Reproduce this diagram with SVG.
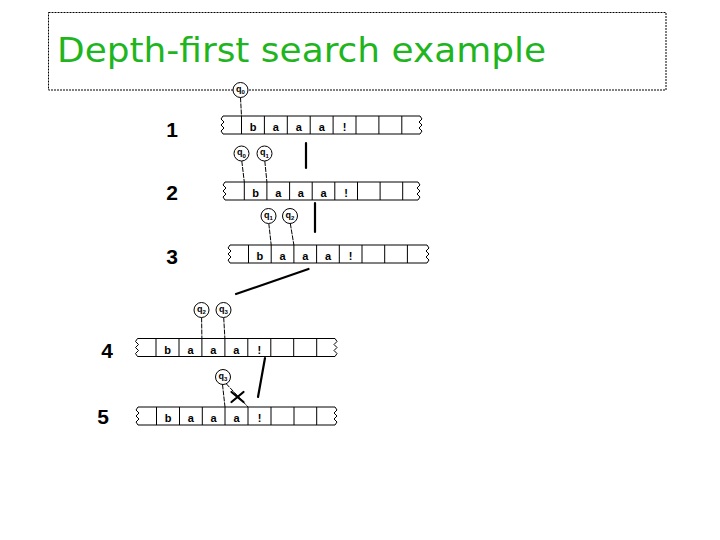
<svg xmlns="http://www.w3.org/2000/svg" width="720" height="540" viewBox="0 0 720 540">
<style>
.frame{fill:none;stroke:#000;stroke-width:1;stroke-dasharray:2,1}
.title{font-family:"DejaVu Sans",Verdana,sans-serif;font-size:33px;fill:#1fb51f}
.num{font-family:"Liberation Sans",Arial,sans-serif;font-size:21px;font-weight:bold;text-anchor:middle;fill:#000}
.tl{stroke:#000;stroke-width:1;fill:none}
.sym{font-family:"Liberation Sans",Arial,sans-serif;font-size:11px;font-weight:bold;text-anchor:middle;fill:#000}
.st{fill:#fff;stroke:#000;stroke-width:1}
.q{font-family:"Liberation Sans",Arial,sans-serif;font-size:9px;font-weight:bold;text-anchor:middle;fill:#000}
.ptr{stroke:#000;stroke-width:1;fill:none;stroke-dasharray:5,1}
.thick{stroke:#000;stroke-width:2.2;fill:none;stroke-linecap:round}
</style>
<rect class="frame" x="48.5" y="12.5" width="617.5" height="77.5"/>
<text class="title" x="57" y="62" textLength="489" lengthAdjust="spacingAndGlyphs">Depth-first search example</text>

<g id="step1">
<text class="num" x="172" y="137">1</text>
<path class="tl" d="M223,116 H420 M223,134 H420 M241.5,116V134 M264.4,116V134 M287.3,116V134 M310.2,116V134 M333.1,116V134 M356,116V134 M378.9,116V134 M401.8,116V134"/>
<path class="tl" d="M223,116 l-2,3 l3,3 l-3,3 l3,3 l-3,3 l2,3 M420,116 l2,3 l-3,3 l3,3 l-3,3 l3,3 l-2,3"/>
<text class="sym" x="253" y="131">b</text><text class="sym" x="275.9" y="131">a</text><text class="sym" x="298.8" y="131">a</text><text class="sym" x="321.7" y="131">a</text><text class="sym" x="344.6" y="131">!</text>
</g>
<g id="step2">
<text class="num" x="172" y="200">2</text>
<path class="tl" d="M225,182 H418 M225,200 H418 M244.3,182V200 M266.9,182V200 M289.6,182V200 M312.2,182V200 M334.8,182V200 M357.5,182V200 M380.1,182V200 M402.7,182V200"/>
<path class="tl" d="M225,182 l-2,3 l3,3 l-3,3 l3,3 l-3,3 l2,3 M418,182 l2,3 l-3,3 l3,3 l-3,3 l3,3 l-2,3"/>
<text class="sym" x="255.6" y="197">b</text><text class="sym" x="278.2" y="197">a</text><text class="sym" x="300.9" y="197">a</text><text class="sym" x="323.5" y="197">a</text><text class="sym" x="346.1" y="197">!</text>
</g>
<g id="step3">
<text class="num" x="172" y="264">3</text>
<path class="tl" d="M230,245 H427 M230,263 H427 M248.5,245V263 M271.2,245V263 M293.9,245V263 M316.6,245V263 M339.3,245V263 M362,245V263 M384.7,245V263 M407.4,245V263"/>
<path class="tl" d="M230,245 l-2,3 l3,3 l-3,3 l3,3 l-3,3 l2,3 M427,245 l2,3 l-3,3 l3,3 l-3,3 l3,3 l-2,3"/>
<text class="sym" x="259.9" y="260">b</text><text class="sym" x="282.6" y="260">a</text><text class="sym" x="305.3" y="260">a</text><text class="sym" x="328" y="260">a</text><text class="sym" x="350.7" y="260">!</text>
</g>
<g id="step4">
<text class="num" x="107" y="358">4</text>
<path class="tl" d="M137.5,338.5 H335 M137.5,356.5 H335 M156,338.5V356.5 M179,338.5V356.5 M201.9,338.5V356.5 M224.9,338.5V356.5 M247.8,338.5V356.5 M270.8,338.5V356.5 M293.7,338.5V356.5 M316.7,338.5V356.5"/>
<path class="tl" d="M137.5,338.5 l-2,3 l3,3 l-3,3 l3,3 l-3,3 l2,3 M335,338.5 l2,3 l-3,3 l3,3 l-3,3 l3,3 l-2,3"/>
<text class="sym" x="167.5" y="353.5">b</text><text class="sym" x="190.5" y="353.5">a</text><text class="sym" x="213.4" y="353.5">a</text><text class="sym" x="236.4" y="353.5">a</text><text class="sym" x="259.3" y="353.5">!</text>
</g>
<g id="step5">
<text class="num" x="103" y="424">5</text>
<path class="tl" d="M138,407 H335 M138,425 H335 M156.5,407V425 M179.5,407V425 M202.3,407V425 M225,407V425 M248,407V425 M271,407V425 M294,407V425 M316.7,407V425"/>
<path class="tl" d="M138,407 l-2,3 l3,3 l-3,3 l3,3 l-3,3 l2,3 M335,407 l2,3 l-3,3 l3,3 l-3,3 l3,3 l-2,3"/>
<text class="sym" x="168" y="422">b</text><text class="sym" x="190.9" y="422">a</text><text class="sym" x="213.6" y="422">a</text><text class="sym" x="236.5" y="422">a</text><text class="sym" x="259.5" y="422">!</text>
</g>

<g id="connectors">
<line class="ptr" x1="240.5" y1="97.5" x2="241.5" y2="116"/>
<line class="ptr" x1="241.8" y1="161" x2="244.3" y2="182"/>
<line class="ptr" x1="264.8" y1="161" x2="266.9" y2="182"/>
<line class="ptr" x1="268.8" y1="223.5" x2="271.2" y2="245"/>
<line class="ptr" x1="290.3" y1="223.5" x2="293.9" y2="245"/>
<line class="ptr" x1="201.6" y1="317.5" x2="201.9" y2="338.5"/>
<line class="ptr" x1="223.7" y1="317.5" x2="224.9" y2="338.5"/>
<line class="ptr" x1="222.5" y1="384.5" x2="225" y2="407"/>
<line class="ptr" x1="226" y1="383.5" x2="248" y2="407"/>
<line class="thick" x1="306" y1="143" x2="306" y2="168"/>
<line class="thick" x1="315" y1="203" x2="315" y2="232"/>
<line class="thick" x1="308.5" y1="269" x2="236" y2="294"/>
<line class="thick" x1="265" y1="358" x2="258" y2="397"/>
<path class="thick" d="M231.5,392 L243.5,402 M243.5,392 L231.5,402"/>
</g>

<g id="s1q0"><circle class="st" cx="240.5" cy="90" r="7.5"/><text class="q" x="240.5" y="91.5">q<tspan dy="2.5" font-size="6">0</tspan></text></g>
<g id="s2q0"><circle class="st" cx="241.5" cy="153.5" r="7.5"/><text class="q" x="241.5" y="155">q<tspan dy="2.5" font-size="6">0</tspan></text></g>
<g id="s2q1"><circle class="st" cx="264.5" cy="153.5" r="7.5"/><text class="q" x="264.5" y="155">q<tspan dy="2.5" font-size="6">1</tspan></text></g>
<g id="s3q1"><circle class="st" cx="268.5" cy="216" r="7.5"/><text class="q" x="268.5" y="217.5">q<tspan dy="2.5" font-size="6">1</tspan></text></g>
<g id="s3q2"><circle class="st" cx="290" cy="216" r="7.5"/><text class="q" x="290" y="217.5">q<tspan dy="2.5" font-size="6">2</tspan></text></g>
<g id="s4q2"><circle class="st" cx="201.5" cy="310" r="7.5"/><text class="q" x="201.5" y="311.5">q<tspan dy="2.5" font-size="6">2</tspan></text></g>
<g id="s4q3"><circle class="st" cx="223.5" cy="310" r="7.5"/><text class="q" x="223.5" y="311.5">q<tspan dy="2.5" font-size="6">3</tspan></text></g>
<g id="s5q3"><circle class="st" cx="223" cy="377" r="7.5"/><text class="q" x="223" y="378.5">q<tspan dy="2.5" font-size="6">3</tspan></text></g>
</svg>
